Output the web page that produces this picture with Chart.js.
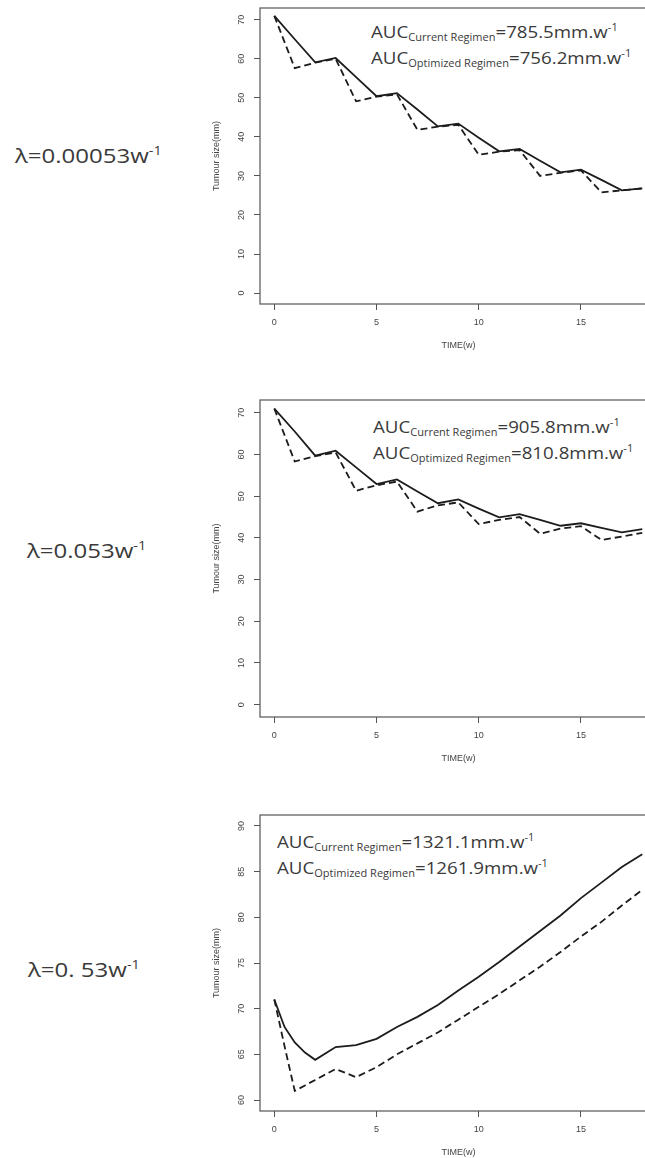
<!DOCTYPE html>
<html>
<head>
<meta charset="utf-8">
<script src="https://cdn.jsdelivr.net/npm/chart.js@4.4.0/dist/chart.umd.min.js"></script>
<style>
  html, body { margin: 0; padding: 0; background: #fff; }
  body { width: 645px; height: 1158px; position: relative; overflow: hidden; }
  canvas { position: absolute; left: 200px; }
  .lam, .auc {
    position: absolute; white-space: nowrap; color: #3a3a3a;
    font-family: 'Open Sans', sans-serif; transform-origin: 0 0;
  }
  .lam { font-size: 20px; line-height: 24px; transform: scaleX(1.2); }
  .lam .sp { font-size: 12px; vertical-align: 8px; }
  .auc { font-size: 17px; line-height: 20px; transform: scaleX(1.1); }
  .auc .sb { font-size: 10px; vertical-align: -3px; }
  .auc .sp { font-size: 10px; vertical-align: 7px; }
</style>
</head>
<body>

<div class="lam" style="left:15px;top:139px">λ=0.00053w<span class="sp">-1</span></div>
<div class="lam" style="left:27px;top:534px">λ=0.053w<span class="sp">-1</span></div>
<div class="lam" style="left:28px;top:953px">λ=0. 53w<span class="sp">-1</span></div>

<div class="auc" style="left:371px;top:17px">AUC<span class="sb">Current Regimen</span>=785.5mm.w<span class="sp">-1</span></div>
<div class="auc" style="left:371px;top:43px">AUC<span class="sb">Optimized Regimen</span>=756.2mm.w<span class="sp">-1</span></div>
<div class="auc" style="left:373px;top:412px">AUC<span class="sb">Current Regimen</span>=905.8mm.w<span class="sp">-1</span></div>
<div class="auc" style="left:373px;top:438px">AUC<span class="sb">Optimized Regimen</span>=810.8mm.w<span class="sp">-1</span></div>
<div class="auc" style="left:277px;top:827px">AUC<span class="sb">Current Regimen</span>=1321.1mm.w<span class="sp">-1</span></div>
<div class="auc" style="left:277px;top:853px">AUC<span class="sb">Optimized Regimen</span>=1261.9mm.w<span class="sp">-1</span></div>

<canvas id="panel1" width="470" height="365" style="top:-7px"></canvas>
<canvas id="panel2" width="470" height="386" style="top:385px"></canvas>
<canvas id="panel3" width="470" height="365" style="top:800px"></canvas>

<script>
// Tumour size simulations, three elimination rates

// weeks
const weeks = [0, 1, 2, 3, 4, 5, 6, 7, 8, 9, 10, 11, 12, 13, 14, 15, 16, 17, 18];
const weeksFine = [0, 0.5, 1, 1.5, 2, 3, 4, 5, 6, 7, 8, 9, 10, 11, 12, 13, 14, 15, 16, 17, 18];

// lambda = 0.00053
const current1 = [71, 65, 59.1, 60.2, 55.3, 50.4, 51.2, 47.0, 42.7, 43.4, 39.8, 36.3, 36.9, 33.9, 30.9, 31.6, 29.0, 26.3, 26.8];
const optimized1 = [71, 57.6, 59.0, 60.0, 49.1, 50.3, 50.9, 41.8, 42.6, 43.1, 35.4, 36.2, 36.6, 30.0, 30.8, 31.4, 25.8, 26.3, 26.8];

// lambda = 0.053
const current2 = [71, 65.5, 59.7, 60.9, 56.9, 52.9, 54.0, 51.1, 48.3, 49.2, 47.0, 44.9, 45.7, 44.3, 42.9, 43.5, 42.4, 41.3, 42.1];
const optimized2 = [71, 58.3, 59.6, 60.5, 51.3, 52.6, 53.5, 46.3, 47.8, 48.5, 43.3, 44.3, 45.0, 41.0, 42.2, 42.8, 39.5, 40.3, 41.2];

// lambda = 0.53
const current3 = [71.0, 68.0, 66.3, 65.2, 64.4, 65.8, 66.0, 66.7, 68.0, 69.1, 70.4, 72.0, 73.5, 75.1, 76.8, 78.5, 80.2, 82.1, 83.8, 85.5, 86.9];
const optimized3 = [71.0, 65.9, 61.0, 61.6, 62.2, 63.4, 62.5, 63.6, 65.0, 66.2, 67.4, 68.8, 70.2, 71.6, 73.1, 74.6, 76.2, 77.9, 79.5, 81.3, 83.0];

// tick labels
const xTicks = [0, 5, 10, 15];
const yTicksLow = [0, 10, 20, 30, 40, 50, 60, 70];
const yTicksHigh = [60, 65, 70, 75, 80, 85, 90];

const axisFont = { family: "'Liberation Sans', Arial, sans-serif", size: 9 };
const axisColor = '#555';
const textColor = '#444';

// R style box around the plot region, plus y tick labels written along the axis
const plotBox = {
    id: 'plotBox',
    afterDraw(chart) {
        const { ctx, chartArea: a } = chart;
        const yScale = chart.scales.y;
        ctx.save();
        ctx.strokeStyle = axisColor;
        ctx.lineWidth = 1.2;
        ctx.strokeRect(a.left, a.top, a.right - a.left, a.bottom - a.top);

        ctx.fillStyle = textColor;
        ctx.font = axisFont.size + 'px ' + axisFont.family;
        ctx.textAlign = 'center';
        ctx.textBaseline = 'middle';
        yScale.ticks.forEach(t => {
            const py = yScale.getPixelForValue(t.value);
            ctx.save();
            ctx.translate(yScale.right - 18, py);
            ctx.rotate(-Math.PI / 2);
            ctx.fillText(String(t.value), 0, 0);
            ctx.restore();
        });
        ctx.restore();
    }
};

function toPoints(xs, ys) {
    return xs.map((x, i) => ({ x: x, y: ys[i] }));
}

/**
 * Build one panel: solid = current regimen, dashed = optimized regimen
 */
function makePanel(id, xs, current, optimized, yMin, yMax, yTicks) {
    const ctx = document.getElementById(id);
    return new Chart(ctx, {
        type: 'line',
        data: {
            datasets: [{
                label: 'Current Regimen',
                data: toPoints(xs, current),
                borderColor: '#1c1c1c',
                borderWidth: 1.8,
                pointRadius: 0,
                tension: 0
            }, {
                label: 'Optimized Regimen',
                data: toPoints(xs, optimized),
                borderColor: '#1c1c1c',
                borderWidth: 1.8,
                borderDash: [7, 4],
                pointRadius: 0,
                tension: 0
            }]
        },
        options: {
            responsive: false,
            animation: false,
            layout: { padding: { left: 0, right: 13, top: 15, bottom: 4 } },
            plugins: { legend: { display: false }, tooltip: { enabled: false } },
            scales: {
                x: {
                    type: 'linear',
                    min: -0.7,
                    max: 18.72,
                    afterBuildTicks: s => { s.ticks = xTicks.map(v => ({ value: v })); },
                    afterFit: s => { s.height = 50; },
                    grid: { display: true, drawOnChartArea: false, drawTicks: true, tickLength: 6, color: axisColor },
                    border: { display: false },
                    ticks: { padding: 7.5, maxRotation: 0, color: textColor, font: axisFont },
                    title: { display: true, text: 'TIME(w)', color: textColor, font: axisFont, padding: { top: 0, bottom: 3 } }
                },
                y: {
                    type: 'linear',
                    min: yMin,
                    max: yMax,
                    afterBuildTicks: s => { s.ticks = yTicks.map(v => ({ value: v })); },
                    afterFit: s => { s.width = 60; },
                    grid: { display: true, drawOnChartArea: false, drawTicks: true, tickLength: 6, color: axisColor },
                    border: { display: false },
                    // labels are drawn rotated by the plotBox plugin
                    ticks: { display: false, font: axisFont },
                    title: { display: true, text: 'Tumour size(mm)', color: textColor, font: axisFont, padding: { top: 11, bottom: 0 } }
                }
            }
        },
        plugins: [plotBox]
    });
}

makePanel('panel1', weeks, current1, optimized1, -2.8, 73.0, yTicksLow);
makePanel('panel2', weeks, current2, optimized2, -2.95, 73.05, yTicksLow);
makePanel('panel3', weeksFine, current3, optimized3, 58.8, 91.2, yTicksHigh);
</script>
</body>
</html>
